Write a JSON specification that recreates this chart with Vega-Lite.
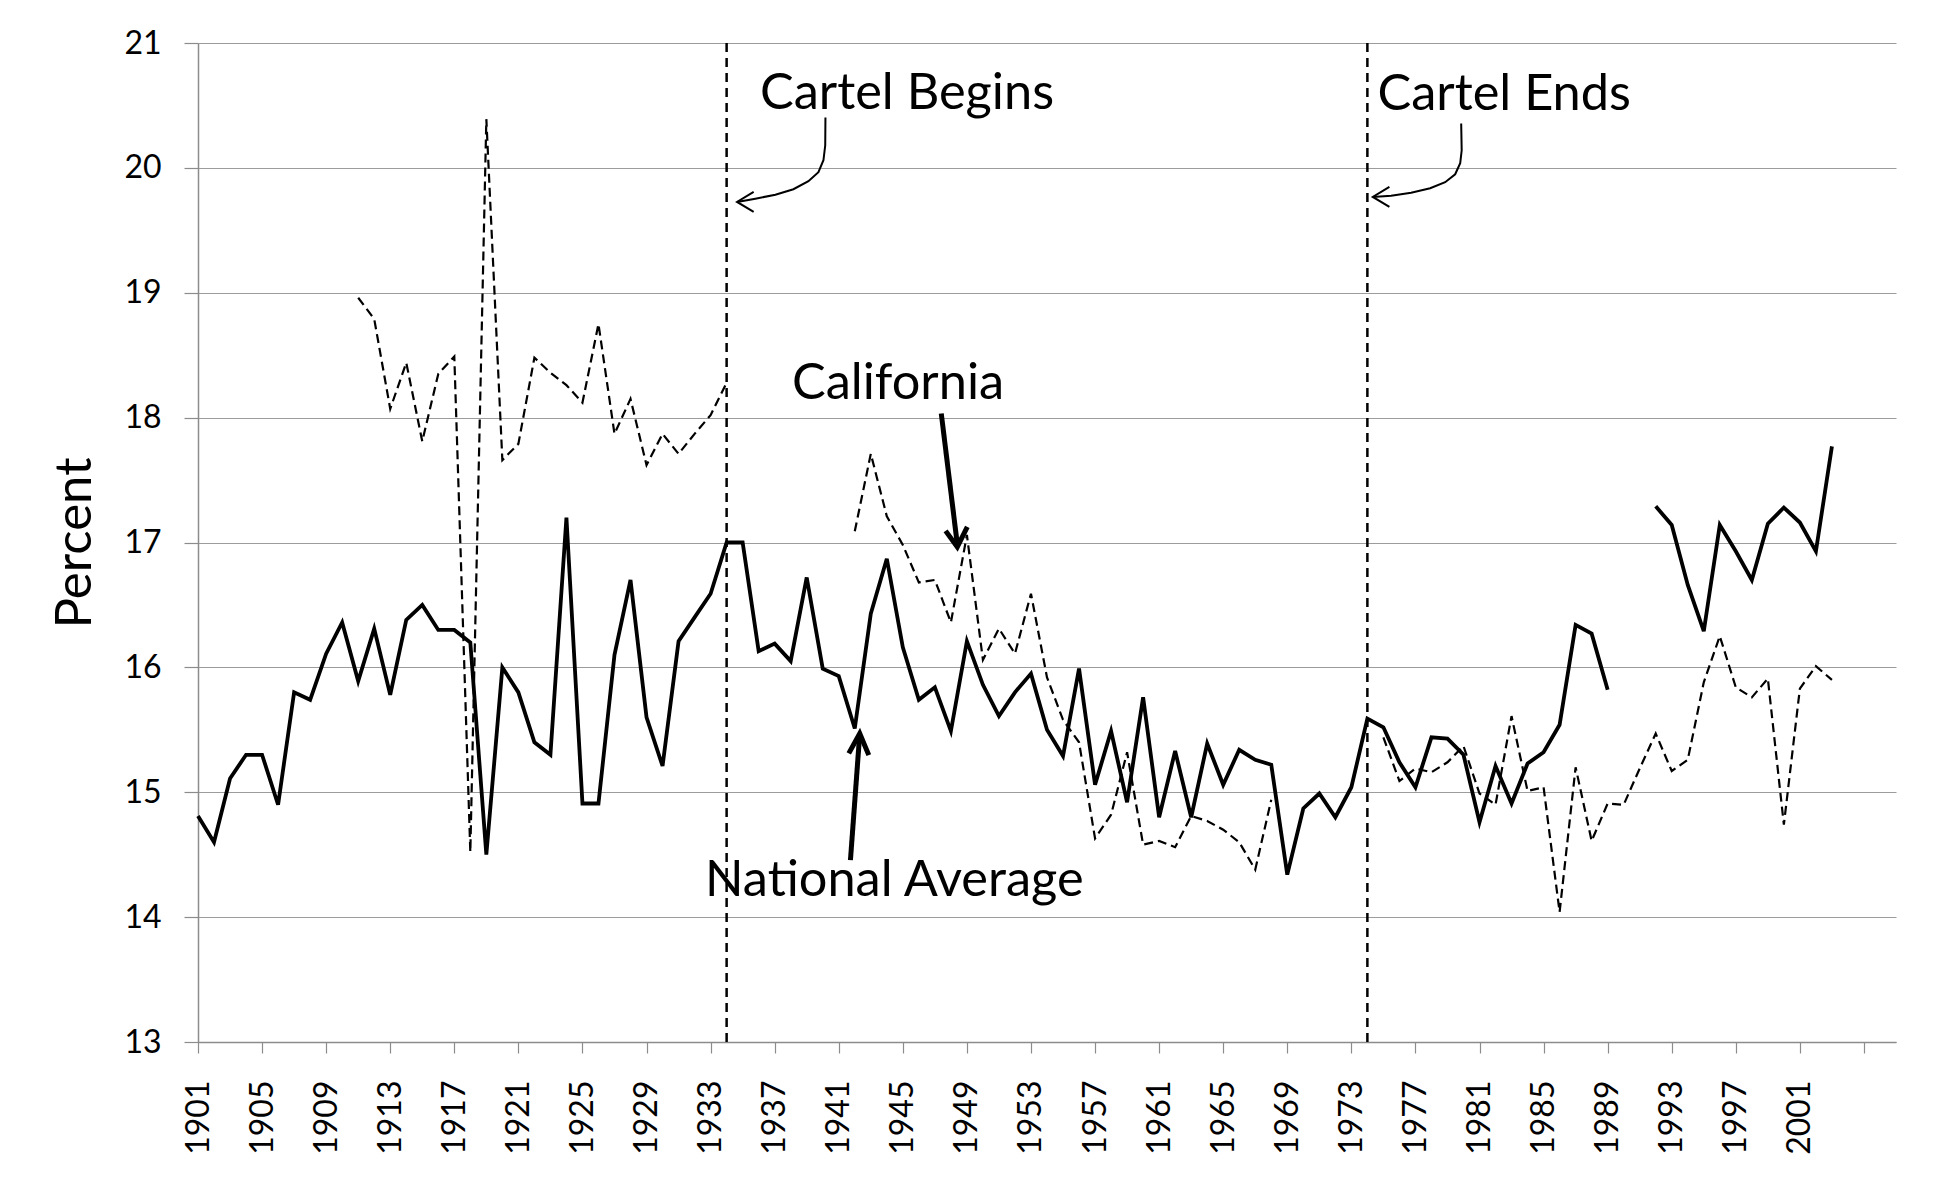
{
  "$schema": "https://vega.github.io/schema/vega-lite/v6.json",
  "width": 1698,
  "height": 999,
  "autosize": {"type": "none"},
  "padding": {"left": 198, "top": 43, "right": 41, "bottom": 136},
  "background": "white",
  "config": {
    "view": {"stroke": null},
    "font": "Lato",
    "axis": {
      "domainColor": "#8c8c8c",
      "domainWidth": 1.5,
      "tickColor": "#8c8c8c",
      "tickWidth": 1.2,
      "gridColor": "#9c9c9c",
      "gridWidth": 1.2,
      "labelColor": "#000000",
      "labelFont": "Lato",
      "labelFontSize": 32,
      "titleFont": "Lato",
      "titleFontSize": 51,
      "titleFontWeight": "normal",
      "titleColor": "#000000"
    }
  },
  "datasets": {
    "series": [
      {"series": "National Average", "segment": "n1", "year": 1901, "value": 14.81},
      {"series": "National Average", "segment": "n1", "year": 1902, "value": 14.60},
      {"series": "National Average", "segment": "n1", "year": 1903, "value": 15.11},
      {"series": "National Average", "segment": "n1", "year": 1904, "value": 15.30},
      {"series": "National Average", "segment": "n1", "year": 1905, "value": 15.30},
      {"series": "National Average", "segment": "n1", "year": 1906, "value": 14.90},
      {"series": "National Average", "segment": "n1", "year": 1907, "value": 15.80},
      {"series": "National Average", "segment": "n1", "year": 1908, "value": 15.74},
      {"series": "National Average", "segment": "n1", "year": 1909, "value": 16.11},
      {"series": "National Average", "segment": "n1", "year": 1910, "value": 16.36},
      {"series": "National Average", "segment": "n1", "year": 1911, "value": 15.89},
      {"series": "National Average", "segment": "n1", "year": 1912, "value": 16.31},
      {"series": "National Average", "segment": "n1", "year": 1913, "value": 15.78},
      {"series": "National Average", "segment": "n1", "year": 1914, "value": 16.38},
      {"series": "National Average", "segment": "n1", "year": 1915, "value": 16.50},
      {"series": "National Average", "segment": "n1", "year": 1916, "value": 16.30},
      {"series": "National Average", "segment": "n1", "year": 1917, "value": 16.30},
      {"series": "National Average", "segment": "n1", "year": 1918, "value": 16.20},
      {"series": "National Average", "segment": "n1", "year": 1919, "value": 14.50},
      {"series": "National Average", "segment": "n1", "year": 1920, "value": 16.00},
      {"series": "National Average", "segment": "n1", "year": 1921, "value": 15.80},
      {"series": "National Average", "segment": "n1", "year": 1922, "value": 15.40},
      {"series": "National Average", "segment": "n1", "year": 1923, "value": 15.30},
      {"series": "National Average", "segment": "n1", "year": 1924, "value": 17.20},
      {"series": "National Average", "segment": "n1", "year": 1925, "value": 14.91},
      {"series": "National Average", "segment": "n1", "year": 1926, "value": 14.91},
      {"series": "National Average", "segment": "n1", "year": 1927, "value": 16.10},
      {"series": "National Average", "segment": "n1", "year": 1928, "value": 16.70},
      {"series": "National Average", "segment": "n1", "year": 1929, "value": 15.60},
      {"series": "National Average", "segment": "n1", "year": 1930, "value": 15.21},
      {"series": "National Average", "segment": "n1", "year": 1931, "value": 16.21},
      {"series": "National Average", "segment": "n1", "year": 1932, "value": 16.40},
      {"series": "National Average", "segment": "n1", "year": 1933, "value": 16.59},
      {"series": "National Average", "segment": "n1", "year": 1934, "value": 17.00},
      {"series": "National Average", "segment": "n1", "year": 1935, "value": 17.00},
      {"series": "National Average", "segment": "n1", "year": 1936, "value": 16.13},
      {"series": "National Average", "segment": "n1", "year": 1937, "value": 16.19},
      {"series": "National Average", "segment": "n1", "year": 1938, "value": 16.05},
      {"series": "National Average", "segment": "n1", "year": 1939, "value": 16.72},
      {"series": "National Average", "segment": "n1", "year": 1940, "value": 15.99},
      {"series": "National Average", "segment": "n1", "year": 1941, "value": 15.93},
      {"series": "National Average", "segment": "n1", "year": 1942, "value": 15.51},
      {"series": "National Average", "segment": "n1", "year": 1943, "value": 16.43},
      {"series": "National Average", "segment": "n1", "year": 1944, "value": 16.87},
      {"series": "National Average", "segment": "n1", "year": 1945, "value": 16.16},
      {"series": "National Average", "segment": "n1", "year": 1946, "value": 15.74},
      {"series": "National Average", "segment": "n1", "year": 1947, "value": 15.84},
      {"series": "National Average", "segment": "n1", "year": 1948, "value": 15.49},
      {"series": "National Average", "segment": "n1", "year": 1949, "value": 16.21},
      {"series": "National Average", "segment": "n1", "year": 1950, "value": 15.86},
      {"series": "National Average", "segment": "n1", "year": 1951, "value": 15.61},
      {"series": "National Average", "segment": "n1", "year": 1952, "value": 15.80},
      {"series": "National Average", "segment": "n1", "year": 1953, "value": 15.95},
      {"series": "National Average", "segment": "n1", "year": 1954, "value": 15.50},
      {"series": "National Average", "segment": "n1", "year": 1955, "value": 15.29},
      {"series": "National Average", "segment": "n1", "year": 1956, "value": 15.99},
      {"series": "National Average", "segment": "n1", "year": 1957, "value": 15.06},
      {"series": "National Average", "segment": "n1", "year": 1958, "value": 15.49},
      {"series": "National Average", "segment": "n1", "year": 1959, "value": 14.92},
      {"series": "National Average", "segment": "n1", "year": 1960, "value": 15.76},
      {"series": "National Average", "segment": "n1", "year": 1961, "value": 14.80},
      {"series": "National Average", "segment": "n1", "year": 1962, "value": 15.33},
      {"series": "National Average", "segment": "n1", "year": 1963, "value": 14.80},
      {"series": "National Average", "segment": "n1", "year": 1964, "value": 15.39},
      {"series": "National Average", "segment": "n1", "year": 1965, "value": 15.06},
      {"series": "National Average", "segment": "n1", "year": 1966, "value": 15.34},
      {"series": "National Average", "segment": "n1", "year": 1967, "value": 15.26},
      {"series": "National Average", "segment": "n1", "year": 1968, "value": 15.22},
      {"series": "National Average", "segment": "n1", "year": 1969, "value": 14.34},
      {"series": "National Average", "segment": "n1", "year": 1970, "value": 14.87},
      {"series": "National Average", "segment": "n1", "year": 1971, "value": 14.99},
      {"series": "National Average", "segment": "n1", "year": 1972, "value": 14.80},
      {"series": "National Average", "segment": "n1", "year": 1973, "value": 15.04},
      {"series": "National Average", "segment": "n1", "year": 1974, "value": 15.59},
      {"series": "National Average", "segment": "n1", "year": 1975, "value": 15.52},
      {"series": "National Average", "segment": "n1", "year": 1976, "value": 15.24},
      {"series": "National Average", "segment": "n1", "year": 1977, "value": 15.04},
      {"series": "National Average", "segment": "n1", "year": 1978, "value": 15.44},
      {"series": "National Average", "segment": "n1", "year": 1979, "value": 15.43},
      {"series": "National Average", "segment": "n1", "year": 1980, "value": 15.30},
      {"series": "National Average", "segment": "n1", "year": 1981, "value": 14.76},
      {"series": "National Average", "segment": "n1", "year": 1982, "value": 15.21},
      {"series": "National Average", "segment": "n1", "year": 1983, "value": 14.91},
      {"series": "National Average", "segment": "n1", "year": 1984, "value": 15.23},
      {"series": "National Average", "segment": "n1", "year": 1985, "value": 15.32},
      {"series": "National Average", "segment": "n1", "year": 1986, "value": 15.54},
      {"series": "National Average", "segment": "n1", "year": 1987, "value": 16.34},
      {"series": "National Average", "segment": "n1", "year": 1988, "value": 16.27},
      {"series": "National Average", "segment": "n1", "year": 1989, "value": 15.82},
      {"series": "National Average", "segment": "n2", "year": 1992, "value": 17.29},
      {"series": "National Average", "segment": "n2", "year": 1993, "value": 17.14},
      {"series": "National Average", "segment": "n2", "year": 1994, "value": 16.66},
      {"series": "National Average", "segment": "n2", "year": 1995, "value": 16.29},
      {"series": "National Average", "segment": "n2", "year": 1996, "value": 17.14},
      {"series": "National Average", "segment": "n2", "year": 1997, "value": 16.93},
      {"series": "National Average", "segment": "n2", "year": 1998, "value": 16.70},
      {"series": "National Average", "segment": "n2", "year": 1999, "value": 17.15},
      {"series": "National Average", "segment": "n2", "year": 2000, "value": 17.28},
      {"series": "National Average", "segment": "n2", "year": 2001, "value": 17.16},
      {"series": "National Average", "segment": "n2", "year": 2002, "value": 16.93},
      {"series": "National Average", "segment": "n2", "year": 2003, "value": 17.77},
      {"series": "California", "segment": "c1", "year": 1911, "value": 18.96},
      {"series": "California", "segment": "c1", "year": 1912, "value": 18.79},
      {"series": "California", "segment": "c1", "year": 1913, "value": 18.07},
      {"series": "California", "segment": "c1", "year": 1914, "value": 18.44},
      {"series": "California", "segment": "c1", "year": 1915, "value": 17.81},
      {"series": "California", "segment": "c1", "year": 1916, "value": 18.35},
      {"series": "California", "segment": "c1", "year": 1917, "value": 18.49},
      {"series": "California", "segment": "c1", "year": 1918, "value": 14.52},
      {"series": "California", "segment": "c1", "year": 1919, "value": 20.39},
      {"series": "California", "segment": "c1", "year": 1920, "value": 17.66},
      {"series": "California", "segment": "c1", "year": 1921, "value": 17.79},
      {"series": "California", "segment": "c1", "year": 1922, "value": 18.48},
      {"series": "California", "segment": "c1", "year": 1923, "value": 18.36},
      {"series": "California", "segment": "c1", "year": 1924, "value": 18.26},
      {"series": "California", "segment": "c1", "year": 1925, "value": 18.12},
      {"series": "California", "segment": "c1", "year": 1926, "value": 18.75},
      {"series": "California", "segment": "c1", "year": 1927, "value": 17.87},
      {"series": "California", "segment": "c1", "year": 1928, "value": 18.15},
      {"series": "California", "segment": "c1", "year": 1929, "value": 17.62},
      {"series": "California", "segment": "c1", "year": 1930, "value": 17.87},
      {"series": "California", "segment": "c1", "year": 1931, "value": 17.71},
      {"series": "California", "segment": "c1", "year": 1932, "value": 17.87},
      {"series": "California", "segment": "c1", "year": 1933, "value": 18.02},
      {"series": "California", "segment": "c1", "year": 1934, "value": 18.28},
      {"series": "California", "segment": "c2", "year": 1942, "value": 17.09},
      {"series": "California", "segment": "c2", "year": 1943, "value": 17.71},
      {"series": "California", "segment": "c2", "year": 1944, "value": 17.21},
      {"series": "California", "segment": "c2", "year": 1945, "value": 16.98},
      {"series": "California", "segment": "c2", "year": 1946, "value": 16.68},
      {"series": "California", "segment": "c2", "year": 1947, "value": 16.70},
      {"series": "California", "segment": "c2", "year": 1948, "value": 16.36},
      {"series": "California", "segment": "c2", "year": 1949, "value": 17.06},
      {"series": "California", "segment": "c2", "year": 1950, "value": 16.06},
      {"series": "California", "segment": "c2", "year": 1951, "value": 16.31},
      {"series": "California", "segment": "c2", "year": 1952, "value": 16.11},
      {"series": "California", "segment": "c2", "year": 1953, "value": 16.59},
      {"series": "California", "segment": "c2", "year": 1954, "value": 15.92},
      {"series": "California", "segment": "c2", "year": 1955, "value": 15.58},
      {"series": "California", "segment": "c2", "year": 1956, "value": 15.40},
      {"series": "California", "segment": "c2", "year": 1957, "value": 14.63},
      {"series": "California", "segment": "c2", "year": 1958, "value": 14.82},
      {"series": "California", "segment": "c2", "year": 1959, "value": 15.32},
      {"series": "California", "segment": "c2", "year": 1960, "value": 14.58},
      {"series": "California", "segment": "c2", "year": 1961, "value": 14.61},
      {"series": "California", "segment": "c2", "year": 1962, "value": 14.56},
      {"series": "California", "segment": "c2", "year": 1963, "value": 14.81},
      {"series": "California", "segment": "c2", "year": 1964, "value": 14.77},
      {"series": "California", "segment": "c2", "year": 1965, "value": 14.70},
      {"series": "California", "segment": "c2", "year": 1966, "value": 14.60},
      {"series": "California", "segment": "c2", "year": 1967, "value": 14.38},
      {"series": "California", "segment": "c2", "year": 1968, "value": 14.94},
      {"series": "California", "segment": "c3", "year": 1975, "value": 15.44},
      {"series": "California", "segment": "c3", "year": 1976, "value": 15.09},
      {"series": "California", "segment": "c3", "year": 1977, "value": 15.19},
      {"series": "California", "segment": "c3", "year": 1978, "value": 15.16},
      {"series": "California", "segment": "c3", "year": 1979, "value": 15.24},
      {"series": "California", "segment": "c3", "year": 1980, "value": 15.37},
      {"series": "California", "segment": "c3", "year": 1981, "value": 14.99},
      {"series": "California", "segment": "c3", "year": 1982, "value": 14.90},
      {"series": "California", "segment": "c3", "year": 1983, "value": 15.61},
      {"series": "California", "segment": "c3", "year": 1984, "value": 15.01},
      {"series": "California", "segment": "c3", "year": 1985, "value": 15.04},
      {"series": "California", "segment": "c3", "year": 1986, "value": 14.04},
      {"series": "California", "segment": "c3", "year": 1987, "value": 15.20},
      {"series": "California", "segment": "c3", "year": 1988, "value": 14.61},
      {"series": "California", "segment": "c3", "year": 1989, "value": 14.91},
      {"series": "California", "segment": "c3", "year": 1990, "value": 14.90},
      {"series": "California", "segment": "c3", "year": 1991, "value": 15.19},
      {"series": "California", "segment": "c3", "year": 1992, "value": 15.47},
      {"series": "California", "segment": "c3", "year": 1993, "value": 15.17},
      {"series": "California", "segment": "c3", "year": 1994, "value": 15.26},
      {"series": "California", "segment": "c3", "year": 1995, "value": 15.88},
      {"series": "California", "segment": "c3", "year": 1996, "value": 16.25},
      {"series": "California", "segment": "c3", "year": 1997, "value": 15.84},
      {"series": "California", "segment": "c3", "year": 1998, "value": 15.76},
      {"series": "California", "segment": "c3", "year": 1999, "value": 15.91},
      {"series": "California", "segment": "c3", "year": 2000, "value": 14.74},
      {"series": "California", "segment": "c3", "year": 2001, "value": 15.83},
      {"series": "California", "segment": "c3", "year": 2002, "value": 16.01},
      {"series": "California", "segment": "c3", "year": 2003, "value": 15.90}
    ],
    "events": [
      {"event": "Cartel Begins", "year": 1934},
      {"event": "Cartel Ends", "year": 1974}
    ],
    "arrows": [
      {"arrow": "begins", "path": "begins-shaft", "i": 0, "year": 1940.169, "value": 20.403},
      {"arrow": "begins", "path": "begins-shaft", "i": 1, "year": 1940.156, "value": 20.181},
      {"arrow": "begins", "path": "begins-shaft", "i": 2, "year": 1940.044, "value": 20.061},
      {"arrow": "begins", "path": "begins-shaft", "i": 3, "year": 1939.731, "value": 19.965},
      {"arrow": "begins", "path": "begins-shaft", "i": 4, "year": 1939.106, "value": 19.893},
      {"arrow": "begins", "path": "begins-shaft", "i": 5, "year": 1938.169, "value": 19.829},
      {"arrow": "begins", "path": "begins-shaft", "i": 6, "year": 1937.044, "value": 19.785},
      {"arrow": "begins", "path": "begins-shaft", "i": 7, "year": 1935.794, "value": 19.753},
      {"arrow": "begins", "path": "begins-shaft", "i": 8, "year": 1934.650, "value": 19.727},
      {"arrow": "begins", "path": "begins-head", "i": 0, "year": 1935.688, "value": 19.807},
      {"arrow": "begins", "path": "begins-head", "i": 1, "year": 1934.650, "value": 19.727},
      {"arrow": "begins", "path": "begins-head", "i": 2, "year": 1935.688, "value": 19.647},
      {"arrow": "ends", "path": "ends-shaft", "i": 0, "year": 1979.856, "value": 20.355},
      {"arrow": "ends", "path": "ends-shaft", "i": 1, "year": 1979.888, "value": 20.141},
      {"arrow": "ends", "path": "ends-shaft", "i": 2, "year": 1979.794, "value": 20.037},
      {"arrow": "ends", "path": "ends-shaft", "i": 3, "year": 1979.481, "value": 19.949},
      {"arrow": "ends", "path": "ends-shaft", "i": 4, "year": 1978.856, "value": 19.885},
      {"arrow": "ends", "path": "ends-shaft", "i": 5, "year": 1977.919, "value": 19.837},
      {"arrow": "ends", "path": "ends-shaft", "i": 6, "year": 1976.731, "value": 19.801},
      {"arrow": "ends", "path": "ends-shaft", "i": 7, "year": 1975.481, "value": 19.777},
      {"arrow": "ends", "path": "ends-shaft", "i": 8, "year": 1974.338, "value": 19.767},
      {"arrow": "ends", "path": "ends-head", "i": 0, "year": 1975.375, "value": 19.847},
      {"arrow": "ends", "path": "ends-head", "i": 1, "year": 1974.338, "value": 19.767},
      {"arrow": "ends", "path": "ends-head", "i": 2, "year": 1975.375, "value": 19.687},
      {"arrow": "california", "path": "california-shaft", "i": 0, "year": 1947.40, "value": 18.033},
      {"arrow": "california", "path": "california-shaft", "i": 1, "year": 1948.40, "value": 16.985},
      {"arrow": "california", "path": "california-head", "i": 0, "year": 1947.67, "value": 17.093},
      {"arrow": "california", "path": "california-head", "i": 1, "year": 1948.40, "value": 16.965},
      {"arrow": "california", "path": "california-head", "i": 2, "year": 1949.025, "value": 17.125},
      {"arrow": "national", "path": "national-shaft", "i": 0, "year": 1941.73, "value": 14.456},
      {"arrow": "national", "path": "national-shaft", "i": 1, "year": 1942.30, "value": 15.45},
      {"arrow": "national", "path": "national-head", "i": 0, "year": 1941.625, "value": 15.311},
      {"arrow": "national", "path": "national-head", "i": 1, "year": 1942.31, "value": 15.471},
      {"arrow": "national", "path": "national-head", "i": 2, "year": 1942.875, "value": 15.297}
    ],
    "labels": [
      {"text": "Cartel Begins", "year": 1945.26, "value": 20.475},
      {"text": "Cartel Ends", "year": 1982.54, "value": 20.461},
      {"text": "California", "year": 1944.7, "value": 18.153},
      {"text": "National Average", "year": 1944.47, "value": 14.168}
    ]
  },
  "layer": [
    {
      "data": {"name": "series"},
      "transform": [{"filter": "datum.series == 'National Average'"}],
      "mark": {"type": "line", "color": "#000000", "strokeWidth": 3.8},
      "encoding": {
        "x": {
          "field": "year", "type": "quantitative",
          "scale": {"domain": [1901, 2007], "nice": false, "zero": false},
          "axis": {
            "title": null,
            "values": [1901,1902,1903,1904,1905,1906,1907,1908,1909,1910,1911,1912,1913,1914,1915,1916,1917,1918,1919,1920,1921,1922,1923,1924,1925,1926,1927,1928,1929,1930,1931,1932,1933,1934,1935,1936,1937,1938,1939,1940,1941,1942,1943,1944,1945,1946,1947,1948,1949,1950,1951,1952,1953,1954,1955,1956,1957,1958,1959,1960,1961,1962,1963,1964,1965,1966,1967,1968,1969,1970,1971,1972,1973,1974,1975,1976,1977,1978,1979,1980,1981,1982,1983,1984,1985,1986,1987,1988,1989,1990,1991,1992,1993,1994,1995,1996,1997,1998,1999,2000,2001,2002,2003,2004,2005,2006,2007],
            "format": "d",
            "labelExpr": "((datum.value - 1901) % 4 == 0 && datum.value <= 2001) ? datum.label : ''",
            "labelAngle": -90,
            "labelOverlap": false,
            "labelFlush": false,
            "labelBound": false,
            "grid": false,
            "tickSize": 11,
            "labelPadding": 27
          }
        },
        "y": {
          "field": "value", "type": "quantitative",
          "scale": {"domain": [13, 21], "nice": false, "zero": false},
          "axis": {
            "title": "Percent",
            "values": [13, 14, 15, 16, 17, 18, 19, 20, 21],
            "format": "d",
            "grid": true,
            "tickSize": 14,
            "labelPadding": 23,
            "titlePadding": 22
          }
        },
        "detail": {"field": "segment"}
      }
    },
    {
      "data": {"name": "series"},
      "transform": [{"filter": "datum.series == 'California'"}],
      "mark": {"type": "line", "color": "#000000", "strokeWidth": 2.2, "strokeDash": [9, 5]},
      "encoding": {
        "x": {"field": "year", "type": "quantitative", "title": null},
        "y": {"field": "value", "type": "quantitative", "title": "Percent"},
        "detail": {"field": "segment"}
      }
    },
    {
      "data": {"name": "events"},
      "mark": {"type": "rule", "color": "#000000", "strokeWidth": 2.5, "strokeDash": [9, 6]},
      "encoding": {
        "x": {"field": "year", "type": "quantitative", "title": null}
      }
    },
    {
      "data": {"name": "arrows"},
      "transform": [{"filter": "datum.arrow == 'begins' || datum.arrow == 'ends'"}],
      "mark": {"type": "line", "color": "#000000", "strokeWidth": 2},
      "encoding": {
        "x": {"field": "year", "type": "quantitative", "title": null},
        "y": {"field": "value", "type": "quantitative", "title": "Percent"},
        "detail": {"field": "path"},
        "order": {"field": "i", "type": "quantitative"}
      }
    },
    {
      "data": {"name": "arrows"},
      "transform": [{"filter": "datum.arrow == 'california' || datum.arrow == 'national'"}],
      "mark": {"type": "line", "color": "#000000", "strokeWidth": 5},
      "encoding": {
        "x": {"field": "year", "type": "quantitative", "title": null},
        "y": {"field": "value", "type": "quantitative", "title": "Percent"},
        "detail": {"field": "path"},
        "order": {"field": "i", "type": "quantitative"}
      }
    },
    {
      "data": {"name": "labels"},
      "mark": {"type": "text", "font": "Lato", "fontSize": 50.5, "align": "center", "baseline": "alphabetic", "color": "#000000"},
      "encoding": {
        "x": {"field": "year", "type": "quantitative", "title": null},
        "y": {"field": "value", "type": "quantitative", "title": "Percent"},
        "text": {"field": "text"}
      }
    }
  ]
}
